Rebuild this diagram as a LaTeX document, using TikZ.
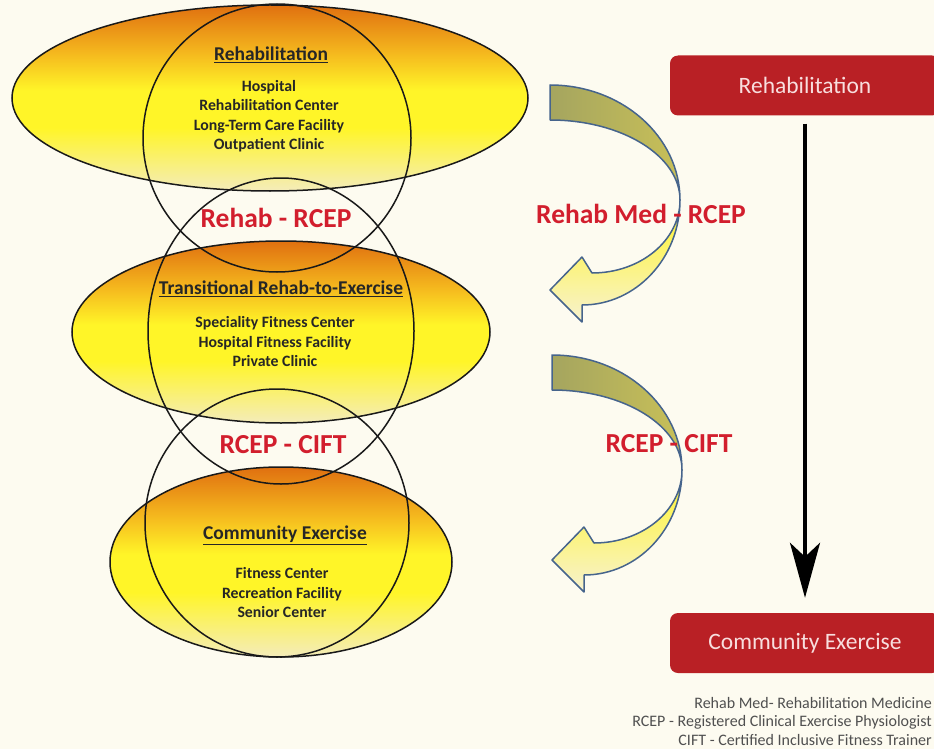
\documentclass[tikz,border=0pt]{standalone}
\usepackage{fontspec}
\setmainfont{Carlito}
\usetikzlibrary{arrows.meta,shapes.geometric}
\definecolor{bg}{RGB}{253,251,240}
\definecolor{orng}{RGB}{224,112,16}
\definecolor{yel}{RGB}{255,245,40}
\definecolor{paley}{RGB}{244,236,186}
\definecolor{midor}{RGB}{245,185,30}
\definecolor{redtxt}{RGB}{210,30,45}
\definecolor{boxred}{RGB}{185,32,37}
\definecolor{boxtxt}{RGB}{248,222,222}
\definecolor{arrowedge}{RGB}{70,100,140}
\definecolor{olive}{RGB}{165,165,95}
\definecolor{olive2}{RGB}{200,192,88}
\definecolor{legendgrey}{RGB}{80,80,80}
\pgfdeclareverticalshading{ellsh}{100bp}{color(0bp)=(paley); color(25bp)=(paley); color(42bp)=(yel); color(52bp)=(yel); color(62bp)=(midor); color(75bp)=(orng); color(100bp)=(orng)}
\newcommand{\cArrowShape}{%
  \shade[left color=olive, right color=olive2, draw=arrowedge, line width=1.5pt, line join=round]
    (550,85) arc[start angle=-90, end angle=0, x radius=130, y radius=115]
    arc[start angle=0, end angle=-90, x radius=130, y radius=80] -- cycle;
  \shade[top color=yel, bottom color=paley!70!white, draw=arrowedge, line width=1.5pt, line join=round]
    (680,200) arc[start angle=0, end angle=90, x radius=98, y radius=105]
    -- (582,322) -- (550,290) -- (582,257) -- (592,273)
    arc[start angle=90, end angle=0, x radius=88, y radius=73] -- cycle;
}
\begin{document}
\begin{tikzpicture}[x=1pt,y=-1pt,
  ring/.style={draw=black!90, line width=1.5pt},
  oval/.style={shading=ellsh, draw=black!90, line width=1.5pt},
  ttl/.style={font=\bfseries\fontsize{19.5}{22}\selectfont, text=black!85},
  items/.style={font=\bfseries\fontsize{15.8}{19.5}\selectfont, align=center, text=black!85},
  redlab/.style={font=\bfseries\fontsize{27.5}{30}\selectfont, text=redtxt},
  redbox/.style={fill=boxred, rounded corners=8pt, minimum width=270pt, minimum height=60pt, inner sep=0pt, text=boxtxt, font=\fontsize{23.5}{26}\selectfont},
  legend/.style={font=\fontsize{16}{18.5}\selectfont, align=right, text=legendgrey}]
\fill[bg] (0,0) rectangle (934,749);
\useasboundingbox (0,0) rectangle (934,749);
\clip (0,0) rectangle (934,749);
% ellipses
\shade[oval] (270,98) ellipse [x radius=258, y radius=93];
\shade[oval] (281,332) ellipse [x radius=209, y radius=91];
\shade[oval] (281,562) ellipse [x radius=171, y radius=95];
% circles
\draw[ring] (277,138) ellipse [x radius=134, y radius=134];
\draw[ring] (281,331) ellipse [x radius=133, y radius=153];
\draw[ring] (277,523) ellipse [x radius=132, y radius=134];
% texts
\node[ttl] (t1) at (271,55) {\underline{Rehabilitation}};
\node[items] (i1) at (269,116) {Hospital\\Rehabilitation Center\\Long-Term Care Facility\\Outpatient Clinic};
\node[ttl] (t2) at (281,289) {\underline{Transitional Rehab-to-Exercise}};
\node[items] (i2) at (275,342) {Speciality Fitness Center\\Hospital Fitness Facility\\Private Clinic};
\node[ttl] (t3) at (285,535) {\underline{Community Exercise}};
\node[items] (i3) at (282,593) {Fitness Center\\Recreation Facility\\Senior Center};
\node[redlab] (l1) at (276,218) {Rehab - RCEP};
\node[redlab] (l2) at (283,445) {RCEP - CIFT};
% curved arrows
\begin{scope}\cArrowShape\end{scope}
\begin{scope}[shift={(2,270)}]\cArrowShape\end{scope}
\node[redlab] (l3) at (641,214) {Rehab Med - RCEP};
\node[redlab] (l4) at (669,444) {RCEP - CIFT};
% right column
\node[redbox] (rbox) at (805,85.5) {Rehabilitation};
\node[redbox] (cbox) at (805,643) {Community Exercise};
\draw[line width=4pt, -{Stealth[length=55pt,width=30pt,inset=14pt]}, shorten <=8pt, shorten >=15pt] (rbox.south) -- (cbox.north);
\node[legend, anchor=east, inner xsep=0pt] (leg) at (932,721) {Rehab Med- Rehabilitation Medicine\\RCEP - Registered Clinical Exercise Physiologist\\CIFT - Certified Inclusive Fitness Trainer};
\end{tikzpicture}
\end{document}
